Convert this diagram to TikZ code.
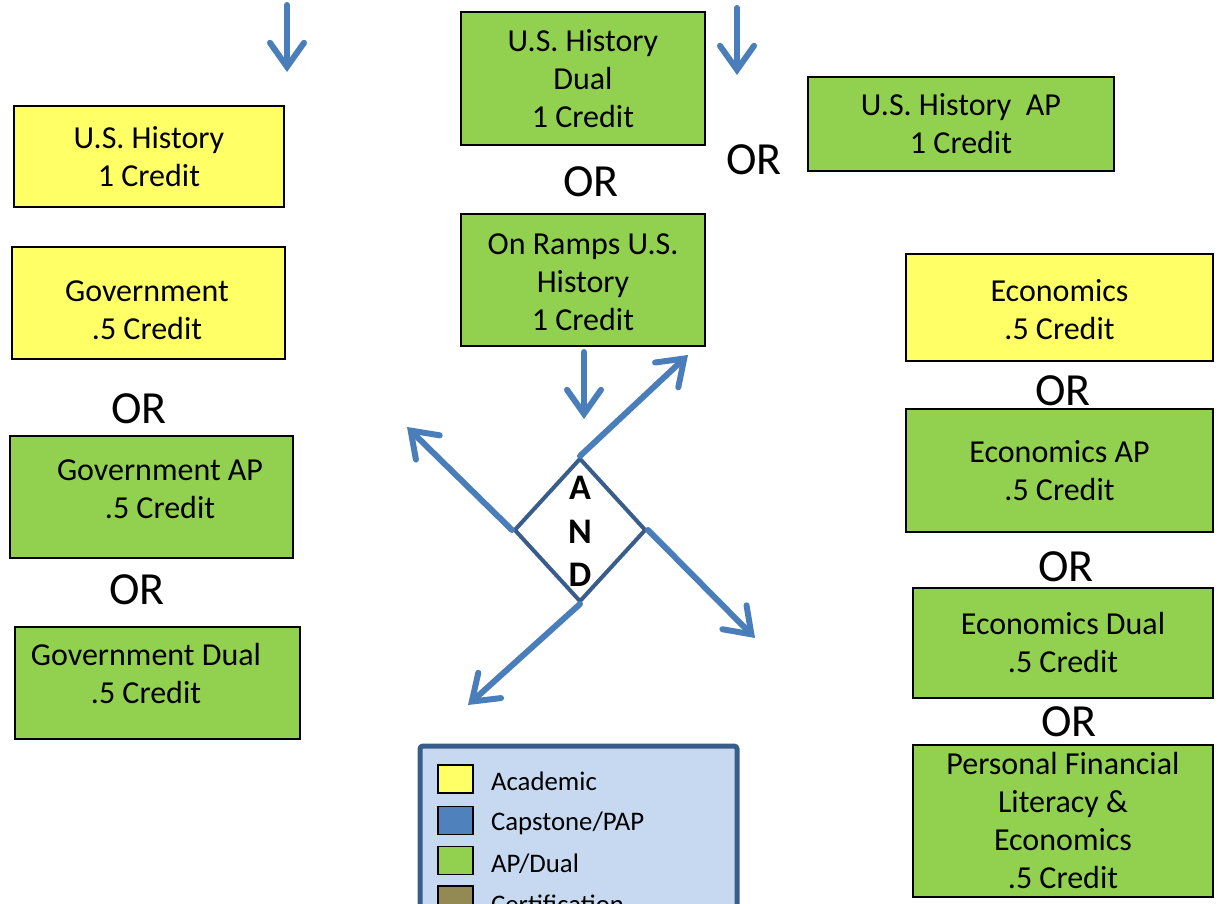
\documentclass[tikz,border=0pt]{standalone}
\usepackage{fontspec}
\setmainfont{Carlito}
\usetikzlibrary{arrows.meta,shapes.geometric,positioning}

\definecolor{acadyellow}{HTML}{FFFF66}
\definecolor{apgreen}{HTML}{92D050}
\definecolor{capblue}{HTML}{4F81BD}
\definecolor{certolive}{HTML}{938953}
\definecolor{flowblue}{HTML}{4A7EBB}
\definecolor{edgeblue}{HTML}{385D8A}
\definecolor{legendbg}{HTML}{C6D9F1}

\tikzset{
  boxtext/.style={align=center, inner sep=0pt, font=\fontsize{16}{19}\selectfont},
  course/.style={draw=black, line width=1pt, boxtext},
  academic/.style={course, fill=acadyellow},
  apdual/.style={course, fill=apgreen},
  orword/.style={font=\fontsize{23}{23}\selectfont},
  flow/.style={draw=flowblue, line width=3pt, line cap=round, -{Straight Barb[length=12pt,width=17pt,line cap=round]}},
  keybox/.style={draw=black, line width=0.8pt, minimum width=17.5pt, minimum height=14pt, inner sep=0pt},
  keytext/.style={anchor=west, font=\fontsize{13.4}{16}\selectfont},
}

\begin{document}
\begin{tikzpicture}[x=0.5pt,y=-0.5pt]
        \clip (0,0) rectangle (1220,904);
        \useasboundingbox (0,0) rectangle (1220,904);

        % U.S. history column
        \node[apdual, minimum width=122pt, minimum height=66.5pt] (ushdual) at (583,78.5) {U.S. History\\Dual\\1 Credit};
        \node[orword] (or1) at (591,182) {OR};
        \node[apdual, minimum width=122pt, minimum height=66pt,
              label={[boxtext, yshift=-1pt]center:On Ramps U.S.\\History\\1 Credit}] (onramps) at (583,280) {};
        \node[orword] (or2) at (754,160) {OR};
        \node[apdual, minimum width=153pt, minimum height=47pt] (ushap) at (961,124) {U.S. History\ \ AP\\1 Credit};
        \node[academic, minimum width=135pt, minimum height=50.5pt] (ush) at (149,156.5) {U.S. History\\1 Credit};

        % government
        \node[academic, minimum width=136.5pt, minimum height=56pt,
              label={[boxtext, xshift=-0.75pt, yshift=-3.5pt]center:Government\\.5 Credit}] (gov) at (148.5,303) {};
        \node[orword] (or3) at (139,409) {OR};
        \node[apdual, minimum width=141.5pt, minimum height=61pt,
              label={[boxtext, xshift=4.25pt, yshift=4pt]center:Government AP\\.5 Credit}] (govap) at (151.5,497) {};
        \node[orword] (or4) at (137,590) {OR};
        \node[apdual, minimum width=142.5pt, minimum height=56pt,
              label={[boxtext, xshift=-5.75pt, yshift=4.5pt]center:Government Dual\\.5 Credit}] (govdual) at (157.5,683) {};

        % economics
        \node[academic, minimum width=153.5pt, minimum height=53.5pt,
              label={[boxtext, yshift=-1pt]center:Economics\\.5 Credit}] (econ) at (1059.5,307.5) {};
        \node[orword] (or5) at (1063,391) {OR};
        \node[apdual, minimum width=153.5pt, minimum height=61.5pt] (econap) at (1059.5,470.5) {Economics AP\\.5 Credit};
        \node[orword] (or6) at (1066,567) {OR};
        \node[apdual, minimum width=150pt, minimum height=55pt] (econdual) at (1063,643) {Economics Dual\\.5 Credit};
        \node[orword] (or7) at (1069,722) {OR};
        \node[apdual, minimum width=150pt, minimum height=76pt] (pfl) at (1063,821) {Personal Financial\\Literacy \&\\Economics\\.5 Credit};

        % AND diamond
        \node[diamond, draw=edgeblue, line width=2pt, fill=white, minimum width=66pt, minimum height=72pt, inner sep=0pt] (and) at (580,530) {};
        \node[align=center, font=\fontsize{18}{21.75}\selectfont\bfseries] (andtext) at (580,531.5) {A\\N\\D};

        \coordinate (topl0) at (287,5);
        \coordinate (topl1) at (287,72);
        \coordinate (topr0) at (737,8);
        \coordinate (topr1) at (737,75);
        \coordinate (down0) at (584,352);
        \coordinate (down1) at (584,419);
        \coordinate (ne) at (688,355);
        \coordinate (nw) at (407,427);
        \coordinate (se) at (755,638);
        \coordinate (sw) at (468,705);

        \draw[flow] (topl0) -- (topl1);
        \draw[flow] (topr0) -- (topr1);
        \draw[flow] (down0) -- (down1);
        \draw[flow] (and.north) -- (ne);
        \draw[flow] (and.west) -- (nw);
        \draw[flow] (and.east) -- (se);
        \draw[flow] (and.south) -- (sw);

        % legend
        \draw[draw=edgeblue, line width=2.5pt, fill=legendbg, rounded corners=1.5pt] (420,746) rectangle (737,930);
        \node[keybox, fill=acadyellow] (k1) at (455.5,779) {};
        \node[keytext] (t1) at (484,781) {Academic};
        \node[keybox, fill=capblue] (k2) at (455.5,820.5) {};
        \node[keytext] (t2) at (484,823) {Capstone/PAP};
        \node[keybox, fill=apgreen] (k3) at (455.5,860.5) {};
        \node[keytext] (t3) at (484,864) {AP/Dual};
        \node[keybox, fill=certolive] (k4) at (455.5,900) {};
        \node[keytext] (t4) at (484,904) {Certification};
\end{tikzpicture}
\end{document}
